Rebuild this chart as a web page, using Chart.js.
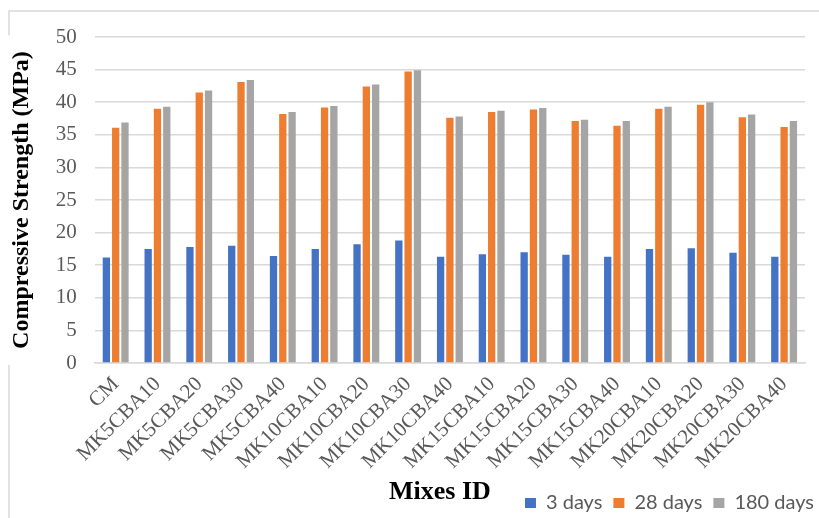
<!DOCTYPE html>
<html>
<head>
<meta charset="utf-8">
<script src="https://cdn.jsdelivr.net/npm/chart.js@4.4.1/dist/chart.umd.min.js"></script>
<style>
  html, body { margin: 0; padding: 0; background: #ffffff; }
  #wrap { position: relative; width: 819px; height: 518px; }
</style>
</head>
<body>
<div id="wrap"><canvas id="c" width="819" height="518"></canvas></div>
<script>
// Mix designs on the x axis
const categories = ['CM', 'MK5CBA10', 'MK5CBA20', 'MK5CBA30', 'MK5CBA40',
  'MK10CBA10', 'MK10CBA20', 'MK10CBA30', 'MK10CBA40',
  'MK15CBA10', 'MK15CBA20', 'MK15CBA30', 'MK15CBA40',
  'MK20CBA10', 'MK20CBA20', 'MK20CBA30', 'MK20CBA40'];

// Compressive strength (MPa) by curing age
const days3   = [16.2, 17.5, 17.8, 18.0, 16.4, 17.5, 18.2, 18.8, 16.3, 16.7, 17.0, 16.6, 16.3, 17.5, 17.6, 16.9, 16.3];
const days28  = [36.1, 39.0, 41.5, 43.1, 38.2, 39.2, 42.4, 44.7, 37.6, 38.5, 38.9, 37.1, 36.4, 39.0, 39.6, 37.7, 36.2];
const days180 = [36.9, 39.3, 41.8, 43.4, 38.5, 39.4, 42.7, 44.9, 37.8, 38.7, 39.1, 37.3, 37.1, 39.3, 40.0, 38.1, 37.1];

const seriesNames = ['3 days', '28 days', '180 days'];
const yTicks = { min: 0, max: 50, step: 5 };

const SERIF = '"Liberation Serif", "Times New Roman", serif';
const GRID = '#d9d9d9';
const TICK_COLOR = '#595959';

// Light frame around the chart, broken where the y-axis title sits,
// plus the x-axis title written on the legend row.
const framePlugin = {
  id: 'frame',
  afterLayout(chart) {
    // slide the legend row towards the right edge of the frame
    const lg = chart.legend;
    lg.left += 20;
    lg.right += 20;
    lg.top -= 1;
    lg.bottom -= 1;
  },
  beforeDraw(chart) {
    const ctx = chart.ctx;
    const ca = chart.chartArea;
    ctx.save();
    ctx.font = 'bold 24px ' + SERIF;
    const half = ctx.measureText('Compressive Strength (MPa)').width / 2 + 16;
    const midY = (ca.top + ca.bottom) / 2;
    ctx.strokeStyle = GRID;
    ctx.lineWidth = 1.5;
    ctx.beginPath();
    ctx.moveTo(chart.width, 11);
    ctx.lineTo(9, 11);
    ctx.lineTo(9, midY - half);
    ctx.moveTo(9, midY + half);
    ctx.lineTo(9, chart.height);
    ctx.stroke();
    ctx.restore();
  },
  afterDraw(chart) {
    const ctx = chart.ctx;
    const ca = chart.chartArea;
    const lg = chart.legend;
    ctx.save();
    ctx.font = 'bold 26px ' + SERIF;
    ctx.fillStyle = '#000000';
    ctx.textAlign = 'center';
    ctx.textBaseline = 'middle';
    const y = lg.top + lg.options.labels.padding + 10 - 11;
    ctx.fillText('Mixes ID', (ca.left + ca.right) / 2 - 10, y);
    ctx.restore();
  }
};

new Chart(document.getElementById('c'), {
  type: 'bar',
  data: {
    labels: categories,
    datasets: [
      { label: seriesNames[0], data: days3,   backgroundColor: '#4472C4' },
      { label: seriesNames[1], data: days28,  backgroundColor: '#ED7D31' },
      { label: seriesNames[2], data: days180, backgroundColor: '#A5A5A5' }
    ]
  },
  options: {
    responsive: false,
    animation: false,
    devicePixelRatio: 1,
    layout: { padding: { left: 3, right: 14, top: 37, bottom: -6 } },
    datasets: { bar: { categoryPercentage: 0.668, barPercentage: 0.785 } },
    plugins: {
      tooltip: { enabled: false },
      legend: {
        position: 'bottom',
        align: 'end',
        labels: {
          boxWidth: 11,
          boxHeight: 10,
          padding: 11,
          color: TICK_COLOR,
          font: { family: 'Lato, "Liberation Sans", sans-serif', size: 20 }
        }
      }
    },
    scales: {
      x: {
        grid: { display: false, drawTicks: false },
        border: { display: true, color: GRID, width: 1.5 },
        ticks: {
          color: TICK_COLOR,
          font: { family: SERIF, size: 21 },
          minRotation: 45,
          maxRotation: 45,
          autoSkip: false,
          padding: 9
        }
      },
      y: {
        min: yTicks.min,
        max: yTicks.max,
        grid: { color: GRID, lineWidth: 1.5, drawTicks: false },
        border: { display: false },
        ticks: {
          stepSize: yTicks.step,
          color: TICK_COLOR,
          font: { family: SERIF, size: 21 },
          padding: 18
        },
        title: {
          display: true,
          text: 'Compressive Strength (MPa)',
          color: '#000000',
          font: { family: SERIF, size: 24, weight: 'bold' },
          padding: { top: 4, bottom: 2 }
        }
      }
    }
  },
  plugins: [framePlugin]
});
</script>
</body>
</html>
